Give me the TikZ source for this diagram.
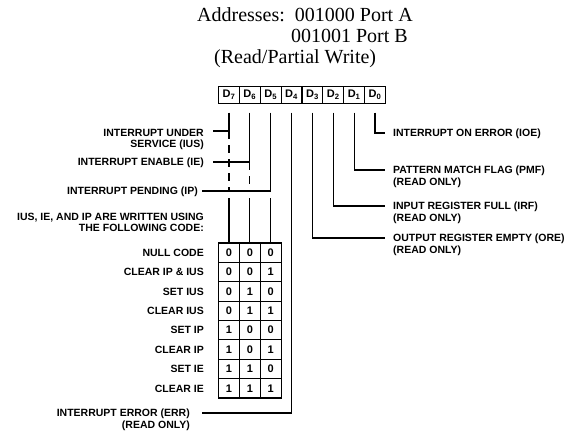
\documentclass[tikz,border=0pt]{standalone}
\usepackage{fontspec}
\setmainfont{Liberation Serif}
\setsansfont{Liberation Sans}
\usetikzlibrary{calc}
\begin{document}
\begin{tikzpicture}[x=1pt,y=-1pt,
  lbl/.style={font=\sffamily\bfseries\fontsize{10.5}{12}\selectfont, inner sep=0pt, text height=7.6pt, text depth=0pt},
  ttl/.style={font=\fontsize{20}{24}\selectfont, inner sep=0pt, text height=13.4pt, text depth=0pt},
  regcell/.style={draw, line width=1.2pt, minimum width=20.86pt, minimum height=17pt, inner sep=0pt, outer sep=0pt, font=\sffamily\bfseries\fontsize{11}{12}\selectfont},
  codecell/.style={draw, line width=1.2pt, minimum width=20.86pt, minimum height=19.375pt, inner sep=0pt, outer sep=0pt, font=\sffamily\bfseries\fontsize{11}{12}\selectfont},
  wire/.style={line width=1.2pt},
  dwire/.style={line width=1.2pt, dash pattern=on 8pt off 6pt}
]
\useasboundingbox (0,0) rectangle (566,434);

% titles
\node[ttl, anchor=west] (t1) at (197,15) {Addresses:\ \ 001000 Port A};
\node[ttl, anchor=east] (t2) at (408,36) {001001 Port B};
\node[ttl, anchor=west] (t3) at (214,57) {(Read/Partial Write)};

% register
\foreach \i in {0,...,7} {
  \pgfmathsetmacro{\xx}{229+20.86*(7-\i)}
  \node[regcell] (d\i) at (\xx,95) {D\textsubscript{\i}};
}

% bit line start coordinates
\foreach \i in {0,...,7} {
  \coordinate (s\i) at ($(d\i.south)+(0,9)$);
}

% table
\foreach \r/\a/\b/\c in {1/0/0/0,2/0/0/1,3/0/1/0,4/0/1/1,5/1/0/0,6/1/0/1,7/1/1/0,8/1/1/1} {
  \pgfmathsetmacro{\yy}{243+19.375*(\r-0.5)}
  \node[codecell] (c\r a) at (229,\yy) {\a};
  \node[codecell] (c\r b) at (249.86,\yy) {\b};
  \node[codecell] (c\r c) at (270.72,\yy) {\c};
}

% left labels
\node[lbl, anchor=east] (ius1) at (204,133) {INTERRUPT UNDER};
\node[lbl, anchor=east] (ius2) at (204,144) {SERVICE (IUS)};
\node[lbl, anchor=east] (ie) at (204,162) {INTERRUPT ENABLE (IE)};
\node[lbl, anchor=east] (ip) at (198,191) {INTERRUPT PENDING (IP)};
\node[lbl, anchor=east] (w1) at (204,217) {IUS, IE, AND IP ARE WRITTEN USING};
\node[lbl, anchor=east] (w2) at (204,228) {THE FOLLOWING CODE:};
\foreach \r/\t in {1/NULL CODE,2/CLEAR IP \& IUS,3/SET IUS,4/CLEAR IUS,5/SET IP,6/CLEAR IP,7/SET IE,8/CLEAR IE} {
  \pgfmathsetmacro{\yy}{243+19.375*(\r-0.5)}
  \node[lbl, anchor=east] (n\r) at (204,\yy) {\t};
}
\node[lbl, anchor=east] (err1) at (190,413) {INTERRUPT ERROR (ERR)};
\node[lbl, anchor=east] (err2) at (190,425) {(READ ONLY)};

% right labels
\node[lbl, anchor=west] (ioe) at (393,133) {INTERRUPT ON ERROR (IOE)};
\node[lbl, anchor=west] (pmf1) at (393,170) {PATTERN MATCH FLAG (PMF)};
\node[lbl, anchor=west] (pmf2) at (393,182) {(READ ONLY)};
\node[lbl, anchor=west] (irf1) at (393,206) {INPUT REGISTER FULL (IRF)};
\node[lbl, anchor=west] (irf2) at (393,218) {(READ ONLY)};
\node[lbl, anchor=west] (ore1) at (393,238) {OUTPUT REGISTER EMPTY (ORE)};
\node[lbl, anchor=west] (ore2) at (393,250) {(READ ONLY)};

% connector end coordinates
\coordinate (eius) at (213,131);
\coordinate (eie) at (213,162);
\coordinate (eip) at (202,191);
\coordinate (eerr) at (202,413);
\coordinate (eioe) at (385,133);
\coordinate (epmf) at (385,170);
\coordinate (eirf) at (385,206);
\coordinate (eore) at (385,238);

% D7 IUS
\draw[wire] (s7) |- (eius);
\draw[dwire] (eius -| s7) -- (eip -| s7);
\draw[wire] ($(eip -| s7)+(0,7)$) -- (c1a.north);
% D6 IE
\draw[wire] (s6) |- (eie);
\draw[dwire] (eie -| s6) -- (eip -| s6);
\draw[wire] ($(eip -| s6)+(0,7)$) -- (c1b.north);
% D5 IP
\draw[wire] (s5) |- (eip);
\draw[wire] ($(eip -| s5)+(0,7)$) -- (c1c.north);
% D4 ERR
\draw[wire] (s4) |- (eerr);
% D3..D0
\draw[wire] (s3) |- (eore);
\draw[wire] (s2) |- (eirf);
\draw[wire] (s1) |- (epmf);
\draw[wire] (s0) |- (eioe);
\end{tikzpicture}
\end{document}
